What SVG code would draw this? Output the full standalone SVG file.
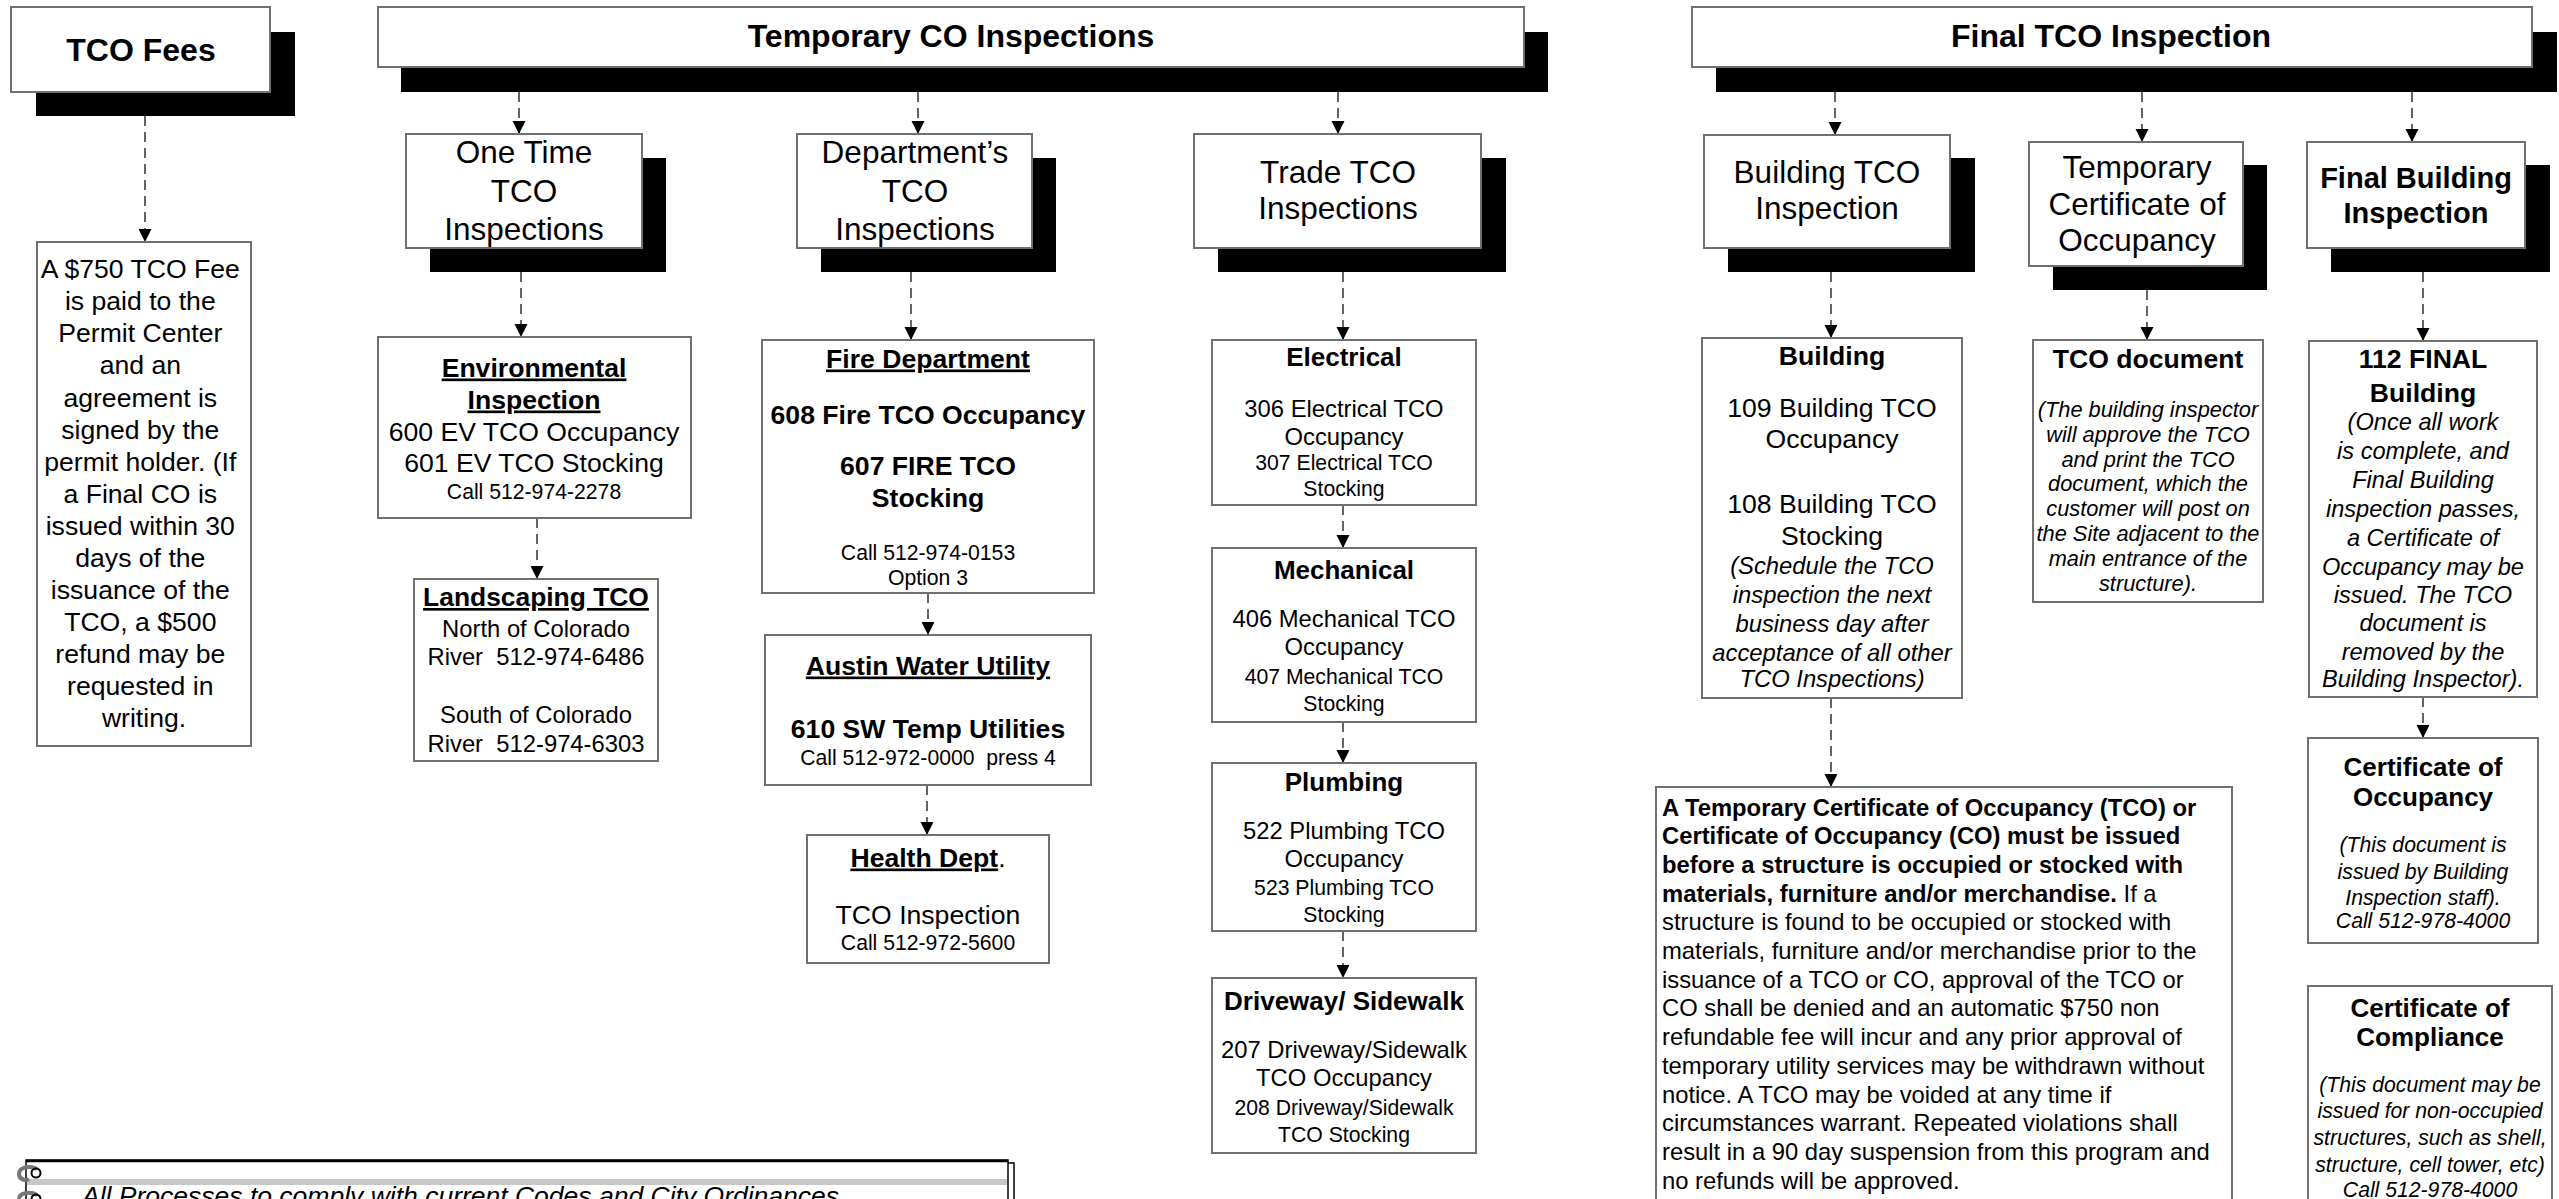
<svg xmlns="http://www.w3.org/2000/svg" width="2559" height="1199" viewBox="0 0 2559 1199">
<style>
.sh{fill:#000}
.bx{fill:#fff;stroke:#707070;stroke-width:2}
text{font-family:"Liberation Sans",Arial,Helvetica,sans-serif;fill:#000;text-anchor:middle}
.l{text-anchor:start}
.b{font-weight:bold}
.i{font-style:italic}
.u{text-decoration:underline}
.f32{font-size:32px}.f31{font-size:31.5px}.f29{font-size:29px}.f27{font-size:26.6px}.f26{font-size:26px}.f24{font-size:23.8px}.f22{font-size:21.8px}.f21{font-size:21.2px}.f23{font-size:23.6px}
.conn line{stroke:#404040;stroke-width:1.6;stroke-dasharray:10 6;marker-end:url(#arr)}
</style>
<defs>
<marker id="arr" markerUnits="userSpaceOnUse" markerWidth="14" markerHeight="14" viewBox="0 0 14 14" refX="13" refY="7" orient="auto">
<path d="M0,0.5 L13,7 L0,13.5 z" fill="#000"/>
</marker>
</defs>
<rect width="2559" height="1199" fill="#fff"/>

<g id="connectors" class="conn">
<line x1="145" y1="116" x2="145" y2="242"/>
<line x1="519" y1="92" x2="519" y2="134"/>
<line x1="918" y1="92" x2="918" y2="134"/>
<line x1="1338" y1="92" x2="1338" y2="134"/>
<line x1="521" y1="272" x2="521" y2="337"/>
<line x1="537" y1="518" x2="537" y2="579"/>
<line x1="911" y1="272" x2="911" y2="340"/>
<line x1="928" y1="593" x2="928" y2="635"/>
<line x1="927" y1="785" x2="927" y2="835"/>
<line x1="1343" y1="272" x2="1343" y2="340"/>
<line x1="1343" y1="505" x2="1343" y2="548"/>
<line x1="1343" y1="722" x2="1343" y2="763"/>
<line x1="1343" y1="931" x2="1343" y2="978"/>
<line x1="1835" y1="92" x2="1835" y2="135"/>
<line x1="2142" y1="92" x2="2142" y2="142"/>
<line x1="2412" y1="92" x2="2412" y2="142"/>
<line x1="1831" y1="272" x2="1831" y2="338"/>
<line x1="2147" y1="290" x2="2147" y2="340"/>
<line x1="2423" y1="272" x2="2423" y2="341"/>
<line x1="1831" y1="698" x2="1831" y2="787"/>
<line x1="2423" y1="697" x2="2423" y2="738"/>
</g>

<g id="tco-fees">
<rect class="sh" x="36" y="32" width="259" height="84"/>
<rect class="bx" x="11" y="7" width="259" height="85"/>
<text class="b f32" x="141" y="61">TCO Fees</text>
</g>

<g id="fee-text">
<rect class="bx" x="37" y="242" width="214" height="504"/>
<text class="f27" x="144">
<tspan x="144" y="278">A $750 TCO Fee</tspan>
<tspan x="144" y="310">is paid to the</tspan>
<tspan x="144" y="342">Permit Center</tspan>
<tspan x="144" y="374">and an</tspan>
<tspan x="144" y="406.5">agreement is</tspan>
<tspan x="144" y="438.5">signed by the</tspan>
<tspan x="144" y="470.5">permit holder. (If</tspan>
<tspan x="144" y="502.5">a Final CO is</tspan>
<tspan x="144" y="534.5">issued within 30</tspan>
<tspan x="144" y="567">days of the</tspan>
<tspan x="144" y="599">issuance of the</tspan>
<tspan x="144" y="631">TCO, a $500</tspan>
<tspan x="144" y="663">refund may be</tspan>
<tspan x="144" y="695">requested in</tspan>
<tspan x="144" y="727">writing.</tspan>
</text>
</g>

<g id="temp-co-header">
<rect class="sh" x="401" y="32" width="1147" height="60"/>
<rect class="bx" x="378" y="7" width="1146" height="60"/>
<text class="b f32" x="951" y="47">Temporary CO Inspections</text>
</g>

<g id="final-tco-header">
<rect class="sh" x="1716" y="32" width="841" height="60"/>
<rect class="bx" x="1692" y="7" width="840" height="60"/>
<text class="b f32" x="2111" y="47">Final TCO Inspection</text>
</g>

<g id="one-time">
<rect class="sh" x="430" y="158" width="236" height="114"/>
<rect class="bx" x="406" y="134" width="236" height="114"/>
<text class="f31"><tspan x="524" y="163">One Time</tspan><tspan x="524" y="202">TCO</tspan><tspan x="524" y="240">Inspections</tspan></text>
</g>

<g id="departments">
<rect class="sh" x="821" y="158" width="235" height="114"/>
<rect class="bx" x="797" y="134" width="235" height="114"/>
<text class="f31"><tspan x="915" y="163">Department’s</tspan><tspan x="915" y="202">TCO</tspan><tspan x="915" y="240">Inspections</tspan></text>
</g>

<g id="trade">
<rect class="sh" x="1218" y="158" width="288" height="114"/>
<rect class="bx" x="1194" y="134" width="287" height="114"/>
<text class="f31"><tspan x="1338" y="183">Trade TCO</tspan><tspan x="1338" y="219">Inspections</tspan></text>
</g>

<g id="environmental">
<rect class="bx" x="378" y="337" width="313" height="181"/>
<text class="b u f27" x="534" y="376.5">Environmental</text>
<text class="b u f27" x="534" y="408.5">Inspection</text>
<text class="f27" x="534" y="440.5">600 EV TCO Occupancy</text>
<text class="f27" x="534" y="471.5">601 EV TCO Stocking</text>
<text class="f21" x="534" y="498.5">Call 512-974-2278</text>
</g>

<g id="landscaping">
<rect class="bx" x="414" y="579" width="244" height="182"/>
<text class="b u" x="536" y="606" style="font-size:26.4px">Landscaping TCO</text>
<text class="f24" x="536" y="636.5" xml:space="preserve">North of Colorado</text>
<text class="f24" x="536" y="664.5" xml:space="preserve">River  512-974-6486</text>
<text class="f24" x="536" y="722.5" xml:space="preserve">South of Colorado</text>
<text class="f24" x="536" y="751.5" xml:space="preserve">River  512-974-6303</text>
</g>

<g id="fire">
<rect class="bx" x="762" y="340" width="332" height="253"/>
<text class="b u f27" x="928" y="367.5">Fire Department</text>
<text class="b f27" x="928" y="423.5">608 Fire TCO Occupancy</text>
<text class="b f27" x="928" y="474.5">607 FIRE TCO</text>
<text class="b f27" x="928" y="506.5">Stocking</text>
<text class="f21" x="928" y="559.5">Call 512-974-0153</text>
<text class="f21" x="928" y="584.5">Option 3</text>
</g>

<g id="austin-water">
<rect class="bx" x="765" y="635" width="326" height="150"/>
<text class="b u f27" x="928" y="674.5">Austin Water Utility</text>
<text class="b f27" x="928" y="737.5">610 SW Temp Utilities</text>
<text class="f21" x="928" y="764.5" xml:space="preserve">Call 512-972-0000  press 4</text>
</g>

<g id="health">
<rect class="bx" x="807" y="835" width="242" height="128"/>
<text class="f27" x="928" y="866.5"><tspan class="b u">Health Dept</tspan>.</text>
<text class="f27" x="928" y="923.5">TCO Inspection</text>
<text class="f21" x="928" y="949.5">Call 512-972-5600</text>
</g>

<g id="electrical">
<rect class="bx" x="1212" y="340" width="264" height="165"/>
<text class="b f26" x="1344" y="365.5">Electrical</text>
<text class="f24" x="1344" y="416.5">306 Electrical TCO</text>
<text class="f24" x="1344" y="444.5">Occupancy</text>
<text class="f21" x="1344" y="469.5">307 Electrical TCO</text>
<text class="f21" x="1344" y="495.5">Stocking</text>
</g>

<g id="mechanical">
<rect class="bx" x="1212" y="548" width="264" height="174"/>
<text class="b f26" x="1344" y="578.5">Mechanical</text>
<text class="f24" x="1344" y="627">406 Mechanical TCO</text>
<text class="f24" x="1344" y="655">Occupancy</text>
<text class="f21" x="1344" y="684">407 Mechanical TCO</text>
<text class="f21" x="1344" y="710.5">Stocking</text>
</g>

<g id="plumbing">
<rect class="bx" x="1212" y="763" width="264" height="168"/>
<text class="b f26" x="1344" y="790.5">Plumbing</text>
<text class="f24" x="1344" y="838.5">522 Plumbing TCO</text>
<text class="f24" x="1344" y="866.5">Occupancy</text>
<text class="f21" x="1344" y="894.5">523 Plumbing TCO</text>
<text class="f21" x="1344" y="921.5">Stocking</text>
</g>

<g id="driveway">
<rect class="bx" x="1212" y="978" width="264" height="175"/>
<text class="b f26" x="1344" y="1009.5">Driveway/ Sidewalk</text>
<text class="f24" x="1344" y="1057.5">207 Driveway/Sidewalk</text>
<text class="f24" x="1344" y="1086">TCO Occupancy</text>
<text class="f21" x="1344" y="1114.5">208 Driveway/Sidewalk</text>
<text class="f21" x="1344" y="1142">TCO Stocking</text>
</g>

<g id="building-tco-inspection">
<rect class="sh" x="1728" y="158" width="247" height="114"/>
<rect class="bx" x="1704" y="135" width="246" height="113"/>
<text class="f31"><tspan x="1827" y="183">Building TCO</tspan><tspan x="1827" y="219">Inspection</tspan></text>
</g>

<g id="temporary-certificate">
<rect class="sh" x="2053" y="165" width="214" height="125"/>
<rect class="bx" x="2029" y="142" width="214" height="124"/>
<text class="f31"><tspan x="2137" y="178">Temporary</tspan><tspan x="2137" y="214.5">Certificate of</tspan><tspan x="2137" y="251">Occupancy</tspan></text>
</g>

<g id="final-building-inspection">
<rect class="sh" x="2331" y="165" width="219" height="107"/>
<rect class="bx" x="2307" y="142" width="218" height="106"/>
<text class="b f29"><tspan x="2416" y="187.5">Final Building</tspan><tspan x="2416" y="222.5">Inspection</tspan></text>
</g>

<g id="building">
<rect class="bx" x="1702" y="338" width="260" height="360"/>
<text class="b f27" x="1832" y="364.5">Building</text>
<text class="f27" x="1832" y="416.5">109 Building TCO</text>
<text class="f27" x="1832" y="447.5">Occupancy</text>
<text class="f27" x="1832" y="512.5">108 Building TCO</text>
<text class="f27" x="1832" y="544.5">Stocking</text>
<text class="i f24"><tspan x="1832" y="573.5">(Schedule the TCO</tspan><tspan x="1832" y="602.5">inspection the next</tspan><tspan x="1832" y="631.5">business day after</tspan><tspan x="1832" y="660.5">acceptance of all other</tspan><tspan x="1832" y="687">TCO Inspections)</tspan></text>
</g>

<g id="tco-document">
<rect class="bx" x="2033" y="340" width="230" height="262"/>
<text class="b f27" x="2148" y="367.5">TCO document</text>
<text class="i f22"><tspan x="2148" y="417">(The building inspector</tspan><tspan x="2148" y="441.8">will approve the TCO</tspan><tspan x="2148" y="466.6">and print the TCO</tspan><tspan x="2148" y="491.4">document, which the</tspan><tspan x="2148" y="516.2">customer will post on</tspan><tspan x="2148" y="541">the Site adjacent to the</tspan><tspan x="2148" y="565.8">main entrance of the</tspan><tspan x="2148" y="590.6">structure).</tspan></text>
</g>

<g id="final-building">
<rect class="bx" x="2309" y="341" width="228" height="356"/>
<text class="b f27" x="2423" y="367.5">112 FINAL</text>
<text class="b f27" x="2423" y="401.5">Building</text>
<text class="i f23"><tspan x="2423" y="430">(Once all work</tspan><tspan x="2423" y="458.5">is complete, and</tspan><tspan x="2423" y="488">Final Building</tspan><tspan x="2423" y="517">inspection passes,</tspan><tspan x="2423" y="545.5">a Certificate of</tspan><tspan x="2423" y="575">Occupancy may be</tspan><tspan x="2423" y="603">issued. The TCO</tspan><tspan x="2423" y="631">document is</tspan><tspan x="2423" y="660">removed by the</tspan><tspan x="2423" y="687">Building Inspector).</tspan></text>
</g>

<g id="certificate-of-occupancy">
<rect class="bx" x="2308" y="738" width="230" height="205"/>
<text class="b f26" x="2423" y="775.5">Certificate of</text>
<text class="b f26" x="2423" y="805.5">Occupancy</text>
<text class="i f21"><tspan x="2423" y="852">(This document is</tspan><tspan x="2423" y="878.5">issued by Building</tspan><tspan x="2423" y="904.5">Inspection staff).</tspan><tspan x="2423" y="928">Call 512-978-4000</tspan></text>
</g>

<g id="certificate-of-compliance">
<rect class="bx" x="2308" y="986" width="244" height="240"/>
<text class="b f26" x="2430" y="1016.5">Certificate of</text>
<text class="b f26" x="2430" y="1045.5">Compliance</text>
<text class="i f21"><tspan x="2430" y="1091.5">(This document may be</tspan><tspan x="2430" y="1117.5">issued for non-occupied</tspan><tspan x="2430" y="1144.5">structures, such as shell,</tspan><tspan x="2430" y="1171.5">structure, cell tower, etc)</tspan><tspan x="2430" y="1196.5">Call 512-978-4000</tspan></text>
</g>

<g id="tco-notice">
<rect class="bx" x="1656" y="787" width="576" height="440"/>
<text class="l f24">
<tspan class="b" x="1662" y="815.5">A Temporary Certificate of Occupancy (TCO) or</tspan>
<tspan class="b" x="1662" y="844.2">Certificate of Occupancy (CO) must be issued</tspan>
<tspan class="b" x="1662" y="872.9">before a structure is occupied or stocked with</tspan>
<tspan class="b" x="1662" y="901.6">materials, furniture and/or merchandise.</tspan><tspan> If a</tspan>
<tspan x="1662" y="930.3">structure is found to be occupied or stocked with</tspan>
<tspan x="1662" y="959">materials, furniture and/or merchandise prior to the</tspan>
<tspan x="1662" y="987.7">issuance of a TCO or CO, approval of the TCO or</tspan>
<tspan x="1662" y="1016.4">CO shall be denied and an automatic $750 non</tspan>
<tspan x="1662" y="1045.1">refundable fee will incur and any prior approval of</tspan>
<tspan x="1662" y="1073.8">temporary utility services may be withdrawn without</tspan>
<tspan x="1662" y="1102.5">notice. A TCO may be voided at any time if</tspan>
<tspan x="1662" y="1131.2">circumstances warrant. Repeated violations shall</tspan>
<tspan x="1662" y="1159.9">result in a 90 day suspension from this program and</tspan>
<tspan x="1662" y="1188.6">no refunds will be approved.</tspan>
</text>
</g>

<g id="scroll-note">
<rect x="31" y="1163" width="983" height="60" fill="#fff" stroke="#000" stroke-width="1.5"/>
<rect x="26" y="1160" width="982" height="60" fill="#fff" stroke="#000" stroke-width="1.5"/>
<line x1="26" y1="1161" x2="1008" y2="1161" stroke="#000" stroke-width="2.5"/>
<rect x="27" y="1179" width="980" height="6" fill="#c8c8c8"/>
<path d="M37,1169 C30,1165 19,1167 19,1174 C19,1180 26,1181 29,1179" fill="none" stroke="#777" stroke-width="4"/>
<circle cx="36" cy="1173" r="4.5" fill="none" stroke="#000" stroke-width="2"/>
<path d="M37,1195 C30,1191 19,1193 19,1199" fill="none" stroke="#777" stroke-width="4"/>
<circle cx="36" cy="1199" r="4.5" fill="none" stroke="#000" stroke-width="2"/>
<text class="l i" x="82" y="1205" style="font-size:26.5px">All Processes to comply with current Codes and City Ordinances</text>
</g>
</svg>
